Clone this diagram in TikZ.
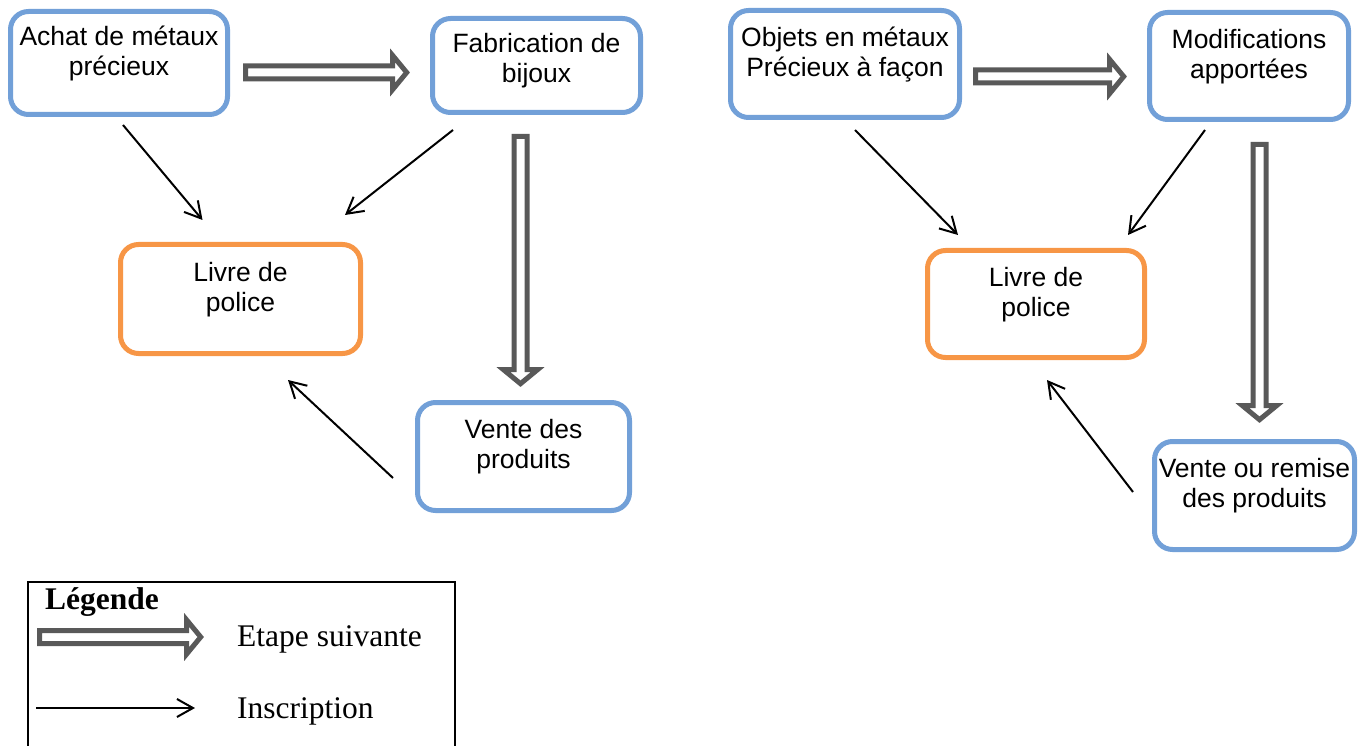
\documentclass[tikz,border=0pt]{standalone}
\usepackage{fontspec}
\setmainfont{Liberation Sans}
\newfontfamily\legendfont{Liberation Serif}
\usetikzlibrary{calc, arrows.meta}
\definecolor{boxblue}{RGB}{114, 160, 216}
\definecolor{boxorange}{RGB}{247, 150, 70}
\definecolor{arrowgray}{RGB}{89, 89, 89}
\tikzset{
  stage/.style = {rectangle, draw = boxblue, line width = 5pt, rounded corners = 18pt,
    fill = white, align = center, inner sep = 2pt, text depth = 25pt,
    font = \fontsize{26.5}{30}\selectfont},
  register/.style = {stage, draw = boxorange},
  etape/.style = {draw = arrowgray, line width = 5pt, fill = white, line join = miter},
  inscr/.style = {line width = 2pt, -{Straight Barb[length = 16pt, width = 18pt]}},
  legendtext/.style = {anchor = base west, inner sep = 0pt,
    font = \legendfont\fontsize{31.5}{36}\selectfont}
}
\newcommand\nextstep[2]{%
  \draw[etape] ($(#1)!6.5pt!90:(#2)$) -- ($(#2)!14pt!(#1)!6.5pt!-90:(#1)$)
  -- ($(#2)!14pt!(#1)!17pt!-90:(#1)$) -- (#2) -- ($(#2)!14pt!(#1)!17pt!90:(#1)$)
  -- ($(#2)!14pt!(#1)!6.5pt!90:(#1)$) -- ($(#1)!6.5pt!-90:(#2)$) -- cycle;}
\begin{document}
\begin{tikzpicture}[x = 1pt, y = -1pt]
  \useasboundingbox (0, 0) rectangle (1366, 746);

  \node[stage, minimum width = 217pt, minimum height = 103pt] (achat) at (119, 63)
  {Achat de métaux\\précieux};
  \node[stage, minimum width = 208pt, minimum height = 94pt, text depth = 15pt] (fab)
  at (536.5, 65.5) {Fabrication de\\bijoux};
  \node[register, minimum width = 240pt, minimum height = 109pt] (livreA) at (240.5, 299)
  {Livre de\\police};
  \node[stage, minimum width = 212pt, minimum height = 108pt] (venteA) at (523.5, 456.5)
  {Vente des\\produits};

  \node[stage, minimum width = 229pt, minimum height = 107pt] (objets) at (845, 64)
  {Objets en métaux\\Précieux à façon};
  \node[stage, minimum width = 199pt, minimum height = 107pt] (modif) at (1249, 66)
  {Modifications\\apportées};
  \node[register, minimum width = 217pt, minimum height = 107pt] (livreB) at (1036, 304)
  {Livre de\\police};
  \node[stage, minimum width = 200pt, minimum height = 108pt] (venteB) at (1254.5, 495.5)
  {Vente ou remise\\des produits};

  \coordinate (s1) at ([shift = {(15.5, 9.5)}]achat.east);
  \coordinate (t1) at ([shift = {(-23.3, 7)}]fab.west);
  \coordinate (s2) at ([shift = {(-16, 21.5)}]fab.south);
  \coordinate (t2) at ([shift = {(-3, -16.3)}]venteA.north);
  \coordinate (s3) at ([shift = {(13.5, 12.5)}]objets.east);
  \coordinate (t3) at ([shift = {(-23.3, 10.5)}]modif.west);
  \coordinate (s4) at ([shift = {(10.5, 22.5)}]modif.south);
  \coordinate (t4) at ([shift = {(5, -19.3)}]venteB.north);
  \nextstep{s1}{t1}
  \nextstep{s2}{t2}
  \nextstep{s3}{t3}
  \nextstep{s4}{t4}

  \draw[inscr] ([shift = {(4, 8)}]achat.south) -- ([shift = {(-38, -22)}]livreA.north);
  \draw[inscr] ([shift = {(23, 15)}]fab.south west) -- ([shift = {(-18, -27)}]livreA.north east);
  \draw[inscr] ([shift = {(-22, 21.5)}]venteA.west) -- ([shift = {(47.5, 24)}]livreA.south);
  \draw[inscr] ([shift = {(10, 10)}]objets.south) -- ([shift = {(-78, -13)}]livreB.north);
  \draw[inscr] ([shift = {(-44, 8)}]modif.south) -- ([shift = {(-19, -13)}]livreB.north east);
  \draw[inscr] ([shift = {(-19, -3.5)}]venteB.west) -- ([shift = {(11, 20)}]livreB.south);

  \draw[line width = 1.5pt] (28, 760) -- (28, 582) -- (455, 582) -- (455, 760);
  \node[legendtext, font = \legendfont\bfseries\fontsize{31.5}{36}\selectfont] (leg) at (45, 609)
  {Légende};
  \coordinate (lg1) at (39.5, 637);
  \coordinate (lg2) at (200.7, 637);
  \nextstep{lg1}{lg2}
  \node[legendtext] (legstep) at (237, 646) {Etape suivante};
  \coordinate (li1) at (36, 708);
  \coordinate (li2) at (195, 708);
  \draw[inscr] (li1) -- (li2);
  \node[legendtext] (legins) at (237, 718) {Inscription};
\end{tikzpicture}
\end{document}
